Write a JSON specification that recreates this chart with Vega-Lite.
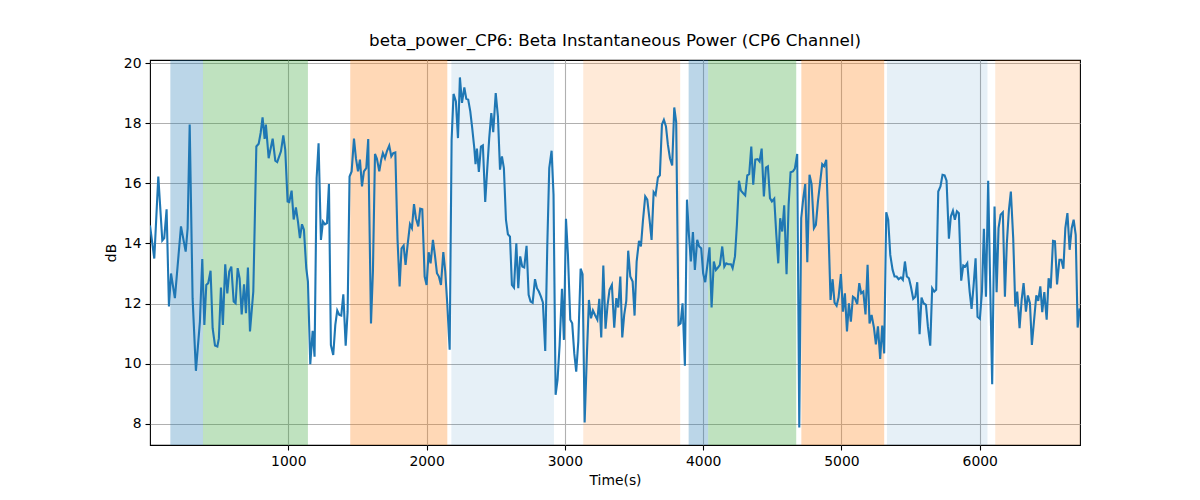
{
  "$schema": "https://vega.github.io/schema/vega-lite/v6.json",
  "width": 930,
  "height": 385,
  "autosize": "none",
  "padding": {"left": 150, "top": 60, "right": 120, "bottom": 55},
  "background": "white",
  "config": {
    "font": "DejaVu Sans",
    "view": {"stroke": "black", "strokeWidth": 1.1},
    "axis": {
      "grid": true,
      "gridColor": "#b0b0b0",
      "gridWidth": 1.1,
      "domain": false,
      "tickColor": "black",
      "tickWidth": 1.1,
      "tickSize": 5,
      "labelFontSize": 13.9,
      "titleFontSize": 13.9,
      "labelColor": "black",
      "titleColor": "black",
      "titleFontWeight": "normal",
      "labelPadding": 4
    }
  },
  "title": {
    "text": "beta_power_CP6: Beta Instantaneous Power (CP6 Channel)",
    "fontSize": 16.7,
    "fontWeight": "normal",
    "font": "DejaVu Sans",
    "color": "black",
    "offset": 7,
    "anchor": "middle"
  },
  "datasets": {
    "spans": [
      {"start": 147, "end": 383, "kind": "A"},
      {"start": 383, "end": 1142, "kind": "B"},
      {"start": 1448, "end": 2150, "kind": "C"},
      {"start": 2179, "end": 2921, "kind": "D"},
      {"start": 3133, "end": 3834, "kind": "E"},
      {"start": 3895, "end": 4036, "kind": "A"},
      {"start": 4036, "end": 4673, "kind": "B"},
      {"start": 4710, "end": 5309, "kind": "C"},
      {"start": 5329, "end": 6056, "kind": "D"},
      {"start": 6112, "end": 6800, "kind": "E"}
    ],
    "power": [
      {"t":0,"v":14.6},{"t":31,"v":13.5},{"t":60,"v":16.23},{"t":89,"v":14.1},{"t":103,"v":14.18},{"t":120,"v":15.14},{"t":137,"v":11.9},{"t":152,"v":13.0},{"t":180,"v":12.18},{"t":224,"v":14.57},{"t":258,"v":13.73},{"t":272,"v":14.5},{"t":287,"v":17.96},{"t":308,"v":12.18},{"t":332,"v":9.76},{"t":361,"v":11.4},{"t":378,"v":13.48},{"t":393,"v":11.29},{"t":407,"v":12.62},{"t":421,"v":12.68},{"t":438,"v":13.09},{"t":453,"v":11.18},{"t":470,"v":10.6},{"t":487,"v":10.57},{"t":498,"v":10.84},{"t":513,"v":12.53},{"t":527,"v":11.29},{"t":544,"v":13.31},{"t":559,"v":12.34},{"t":573,"v":13.07},{"t":588,"v":13.23},{"t":605,"v":12.07},{"t":619,"v":12.01},{"t":634,"v":13.18},{"t":648,"v":12.84},{"t":663,"v":11.64},{"t":680,"v":12.64},{"t":694,"v":11.68},{"t":708,"v":13.2},{"t":723,"v":11.07},{"t":747,"v":12.4},{"t":769,"v":17.23},{"t":786,"v":17.32},{"t":800,"v":17.68},{"t":814,"v":18.2},{"t":829,"v":17.48},{"t":838,"v":17.96},{"t":858,"v":16.84},{"t":887,"v":17.49},{"t":906,"v":16.76},{"t":920,"v":16.71},{"t":947,"v":17.07},{"t":964,"v":17.6},{"t":978,"v":17.12},{"t":995,"v":15.4},{"t":1007,"v":15.38},{"t":1024,"v":15.76},{"t":1039,"v":14.8},{"t":1055,"v":15.2},{"t":1070,"v":14.73},{"t":1084,"v":14.18},{"t":1099,"v":14.64},{"t":1113,"v":14.46},{"t":1130,"v":13.18},{"t":1142,"v":12.73},{"t":1159,"v":9.98},{"t":1176,"v":11.09},{"t":1190,"v":10.23},{"t":1205,"v":16.18},{"t":1219,"v":17.34},{"t":1236,"v":14.12},{"t":1251,"v":14.73},{"t":1265,"v":14.64},{"t":1280,"v":14.68},{"t":1294,"v":15.98},{"t":1308,"v":10.62},{"t":1325,"v":10.29},{"t":1340,"v":11.29},{"t":1354,"v":11.77},{"t":1369,"v":11.62},{"t":1383,"v":11.6},{"t":1398,"v":12.31},{"t":1415,"v":10.6},{"t":1429,"v":11.73},{"t":1443,"v":16.23},{"t":1458,"v":16.4},{"t":1475,"v":17.49},{"t":1489,"v":16.84},{"t":1504,"v":16.4},{"t":1518,"v":16.79},{"t":1533,"v":15.9},{"t":1547,"v":16.4},{"t":1564,"v":16.51},{"t":1578,"v":17.48},{"t":1598,"v":11.34},{"t":1612,"v":13.07},{"t":1627,"v":16.98},{"t":1641,"v":16.82},{"t":1658,"v":16.4},{"t":1672,"v":16.79},{"t":1684,"v":17.01},{"t":1699,"v":16.84},{"t":1713,"v":17.07},{"t":1730,"v":17.26},{"t":1745,"v":16.9},{"t":1759,"v":17.01},{"t":1774,"v":17.03},{"t":1790,"v":14.12},{"t":1805,"v":12.57},{"t":1819,"v":13.84},{"t":1834,"v":13.93},{"t":1848,"v":13.29},{"t":1863,"v":13.96},{"t":1880,"v":14.64},{"t":1894,"v":14.51},{"t":1909,"v":15.31},{"t":1923,"v":14.84},{"t":1940,"v":14.57},{"t":1954,"v":15.16},{"t":1969,"v":15.14},{"t":1986,"v":12.9},{"t":2000,"v":12.62},{"t":2015,"v":13.71},{"t":2029,"v":13.34},{"t":2046,"v":14.12},{"t":2060,"v":13.62},{"t":2075,"v":13.01},{"t":2089,"v":12.9},{"t":2104,"v":12.62},{"t":2121,"v":13.71},{"t":2135,"v":13.07},{"t":2150,"v":11.96},{"t":2167,"v":10.46},{"t":2181,"v":17.46},{"t":2195,"v":18.98},{"t":2212,"v":18.73},{"t":2227,"v":17.51},{"t":2241,"v":19.53},{"t":2256,"v":18.68},{"t":2273,"v":19.2},{"t":2287,"v":18.82},{"t":2301,"v":18.79},{"t":2316,"v":18.4},{"t":2330,"v":17.84},{"t":2345,"v":17.18},{"t":2354,"v":16.64},{"t":2364,"v":17.16},{"t":2378,"v":16.38},{"t":2393,"v":17.23},{"t":2407,"v":17.27},{"t":2424,"v":15.38},{"t":2439,"v":16.51},{"t":2453,"v":17.51},{"t":2468,"v":18.34},{"t":2482,"v":17.71},{"t":2500,"v":19.01},{"t":2516,"v":18.23},{"t":2531,"v":16.46},{"t":2545,"v":16.9},{"t":2559,"v":16.51},{"t":2574,"v":14.79},{"t":2588,"v":14.31},{"t":2603,"v":14.23},{"t":2617,"v":12.62},{"t":2632,"v":12.53},{"t":2649,"v":14.01},{"t":2663,"v":12.51},{"t":2677,"v":13.57},{"t":2692,"v":13.23},{"t":2706,"v":13.2},{"t":2723,"v":13.92},{"t":2738,"v":12.29},{"t":2752,"v":12.07},{"t":2767,"v":12.03},{"t":2784,"v":12.81},{"t":2798,"v":12.51},{"t":2812,"v":12.4},{"t":2827,"v":12.23},{"t":2841,"v":12.04},{"t":2858,"v":10.42},{"t":2873,"v":13.96},{"t":2887,"v":16.51},{"t":2904,"v":17.09},{"t":2918,"v":15.62},{"t":2933,"v":8.96},{"t":2947,"v":9.46},{"t":2962,"v":10.62},{"t":2979,"v":12.49},{"t":2993,"v":10.79},{"t":3008,"v":14.82},{"t":3022,"v":13.64},{"t":3039,"v":11.46},{"t":3053,"v":11.34},{"t":3068,"v":10.34},{"t":3082,"v":9.73},{"t":3097,"v":10.73},{"t":3114,"v":13.16},{"t":3128,"v":12.98},{"t":3143,"v":8.04},{"t":3160,"v":10.4},{"t":3174,"v":12.12},{"t":3189,"v":11.51},{"t":3203,"v":11.77},{"t":3218,"v":11.62},{"t":3235,"v":11.46},{"t":3249,"v":12.16},{"t":3263,"v":10.87},{"t":3278,"v":13.27},{"t":3294,"v":11.16},{"t":3309,"v":11.96},{"t":3323,"v":12.46},{"t":3340,"v":12.62},{"t":3357,"v":11.2},{"t":3372,"v":12.18},{"t":3386,"v":11.87},{"t":3401,"v":12.9},{"t":3415,"v":10.87},{"t":3429,"v":11.62},{"t":3444,"v":12.09},{"t":3458,"v":13.76},{"t":3473,"v":12.9},{"t":3490,"v":12.73},{"t":3504,"v":11.6},{"t":3519,"v":13.4},{"t":3536,"v":14.09},{"t":3550,"v":13.9},{"t":3564,"v":14.73},{"t":3581,"v":15.57},{"t":3596,"v":15.46},{"t":3613,"v":14.76},{"t":3627,"v":14.12},{"t":3642,"v":15.71},{"t":3656,"v":15.62},{"t":3673,"v":16.2},{"t":3687,"v":16.27},{"t":3702,"v":17.96},{"t":3716,"v":18.12},{"t":3731,"v":17.9},{"t":3745,"v":17.29},{"t":3760,"v":16.84},{"t":3776,"v":16.6},{"t":3791,"v":18.53},{"t":3805,"v":18.04},{"t":3822,"v":11.29},{"t":3837,"v":11.34},{"t":3851,"v":12.01},{"t":3868,"v":9.93},{"t":3883,"v":15.46},{"t":3897,"v":14.29},{"t":3911,"v":13.4},{"t":3926,"v":14.38},{"t":3940,"v":13.12},{"t":3957,"v":14.12},{"t":3971,"v":13.9},{"t":3986,"v":13.84},{"t":4000,"v":13.01},{"t":4015,"v":12.71},{"t":4032,"v":13.34},{"t":4046,"v":13.87},{"t":4061,"v":11.87},{"t":4077,"v":13.4},{"t":4092,"v":13.12},{"t":4107,"v":13.2},{"t":4121,"v":13.29},{"t":4138,"v":13.9},{"t":4153,"v":13.23},{"t":4167,"v":13.34},{"t":4181,"v":13.31},{"t":4201,"v":13.31},{"t":4213,"v":13.18},{"t":4230,"v":13.57},{"t":4244,"v":14.62},{"t":4259,"v":16.09},{"t":4273,"v":15.76},{"t":4288,"v":15.68},{"t":4304,"v":15.6},{"t":4319,"v":16.27},{"t":4333,"v":16.31},{"t":4348,"v":17.23},{"t":4362,"v":15.96},{"t":4377,"v":16.79},{"t":4394,"v":16.81},{"t":4408,"v":16.73},{"t":4423,"v":17.16},{"t":4439,"v":15.57},{"t":4454,"v":16.53},{"t":4468,"v":16.57},{"t":4483,"v":15.51},{"t":4497,"v":15.4},{"t":4514,"v":15.49},{"t":4529,"v":14.29},{"t":4543,"v":13.34},{"t":4557,"v":14.84},{"t":4572,"v":14.4},{"t":4586,"v":15.27},{"t":4603,"v":12.98},{"t":4618,"v":15.29},{"t":4632,"v":16.37},{"t":4649,"v":16.4},{"t":4663,"v":16.49},{"t":4680,"v":16.98},{"t":4695,"v":7.87},{"t":4709,"v":14.84},{"t":4724,"v":15.51},{"t":4738,"v":15.98},{"t":4753,"v":13.38},{"t":4769,"v":16.29},{"t":4784,"v":15.98},{"t":4801,"v":14.51},{"t":4815,"v":14.62},{"t":4830,"v":15.4},{"t":4846,"v":16.04},{"t":4861,"v":16.64},{"t":4875,"v":16.57},{"t":4890,"v":16.79},{"t":4904,"v":14.79},{"t":4921,"v":12.12},{"t":4936,"v":12.81},{"t":4950,"v":12.03},{"t":4965,"v":11.93},{"t":4979,"v":12.2},{"t":4996,"v":12.98},{"t":5011,"v":11.73},{"t":5025,"v":12.34},{"t":5040,"v":11.07},{"t":5054,"v":12.01},{"t":5068,"v":11.4},{"t":5083,"v":12.23},{"t":5097,"v":12.18},{"t":5114,"v":11.98},{"t":5129,"v":12.68},{"t":5143,"v":12.34},{"t":5158,"v":12.4},{"t":5174,"v":11.64},{"t":5189,"v":13.29},{"t":5203,"v":11.34},{"t":5218,"v":11.62},{"t":5235,"v":11.2},{"t":5249,"v":10.64},{"t":5264,"v":11.24},{"t":5280,"v":10.16},{"t":5295,"v":11.27},{"t":5309,"v":10.34},{"t":5324,"v":15.04},{"t":5338,"v":14.79},{"t":5353,"v":13.62},{"t":5370,"v":13.12},{"t":5384,"v":12.9},{"t":5399,"v":12.9},{"t":5413,"v":12.81},{"t":5430,"v":12.87},{"t":5444,"v":12.79},{"t":5459,"v":13.4},{"t":5473,"v":12.9},{"t":5488,"v":12.84},{"t":5502,"v":12.57},{"t":5519,"v":12.16},{"t":5534,"v":12.23},{"t":5548,"v":12.71},{"t":5565,"v":10.98},{"t":5579,"v":12.2},{"t":5594,"v":12.01},{"t":5611,"v":11.96},{"t":5625,"v":11.24},{"t":5642,"v":10.6},{"t":5656,"v":12.51},{"t":5671,"v":12.4},{"t":5685,"v":12.46},{"t":5700,"v":15.73},{"t":5716,"v":15.9},{"t":5731,"v":16.29},{"t":5746,"v":16.27},{"t":5760,"v":16.09},{"t":5777,"v":14.16},{"t":5791,"v":14.9},{"t":5806,"v":15.09},{"t":5820,"v":14.79},{"t":5835,"v":15.07},{"t":5849,"v":15.01},{"t":5866,"v":12.76},{"t":5881,"v":13.27},{"t":5895,"v":13.23},{"t":5910,"v":13.34},{"t":5927,"v":12.4},{"t":5941,"v":11.82},{"t":5955,"v":12.57},{"t":5970,"v":13.51},{"t":5984,"v":11.56},{"t":6001,"v":11.49},{"t":6016,"v":12.4},{"t":6030,"v":14.49},{"t":6045,"v":12.23},{"t":6061,"v":16.09},{"t":6076,"v":12.51},{"t":6090,"v":9.31},{"t":6107,"v":15.23},{"t":6122,"v":12.38},{"t":6136,"v":14.51},{"t":6151,"v":14.96},{"t":6167,"v":15.04},{"t":6182,"v":12.23},{"t":6196,"v":14.01},{"t":6211,"v":15.12},{"t":6225,"v":15.73},{"t":6242,"v":14.18},{"t":6257,"v":11.9},{"t":6271,"v":12.4},{"t":6288,"v":11.18},{"t":6303,"v":12.12},{"t":6317,"v":12.68},{"t":6334,"v":11.73},{"t":6348,"v":12.27},{"t":6363,"v":12.01},{"t":6377,"v":10.62},{"t":6392,"v":11.4},{"t":6409,"v":12.27},{"t":6423,"v":12.09},{"t":6438,"v":12.57},{"t":6452,"v":11.71},{"t":6467,"v":12.38},{"t":6484,"v":11.46},{"t":6498,"v":12.84},{"t":6513,"v":12.51},{"t":6530,"v":14.09},{"t":6544,"v":14.07},{"t":6559,"v":12.64},{"t":6576,"v":13.46},{"t":6590,"v":13.46},{"t":6605,"v":13.16},{"t":6619,"v":14.51},{"t":6634,"v":15.01},{"t":6650,"v":13.79},{"t":6665,"v":14.51},{"t":6679,"v":14.79},{"t":6694,"v":14.29},{"t":6708,"v":11.2},{"t":6723,"v":11.84}
    ]
  },
  "layer": [
    {
      "data": {"name": "spans"},
      "mark": {"type": "rect", "clip": true, "opacity": 1},
      "encoding": {
        "x": {
          "field": "start",
          "type": "quantitative",
          "scale": {"domain": [0, 6725], "nice": false, "zero": false},
          "axis": {"title": "Time(s)", "values": [1000, 2000, 3000, 4000, 5000, 6000], "format": "d", "titlePadding": 6}
        },
        "x2": {"field": "end"},
        "color": {
          "field": "kind",
          "type": "nominal",
          "scale": {
            "domain": ["A", "B", "C", "D", "E"],
            "range": ["rgba(31,119,180,0.3)", "rgba(44,160,44,0.3)", "rgba(255,127,14,0.3)", "rgba(31,119,180,0.11)", "rgba(255,127,14,0.16)"]
          },
          "legend": null
        }
      }
    },
    {
      "data": {"name": "power"},
      "mark": {"type": "line", "color": "#1f77b4", "strokeWidth": 2.1, "clip": true},
      "encoding": {
        "x": {"field": "t", "type": "quantitative"},
        "y": {
          "field": "v",
          "type": "quantitative",
          "scale": {"domain": [7.29, 20.11], "nice": false, "zero": false},
          "axis": {"title": "dB", "values": [8, 10, 12, 14, 16, 18, 20], "titlePadding": 5}
        }
      }
    }
  ]
}
